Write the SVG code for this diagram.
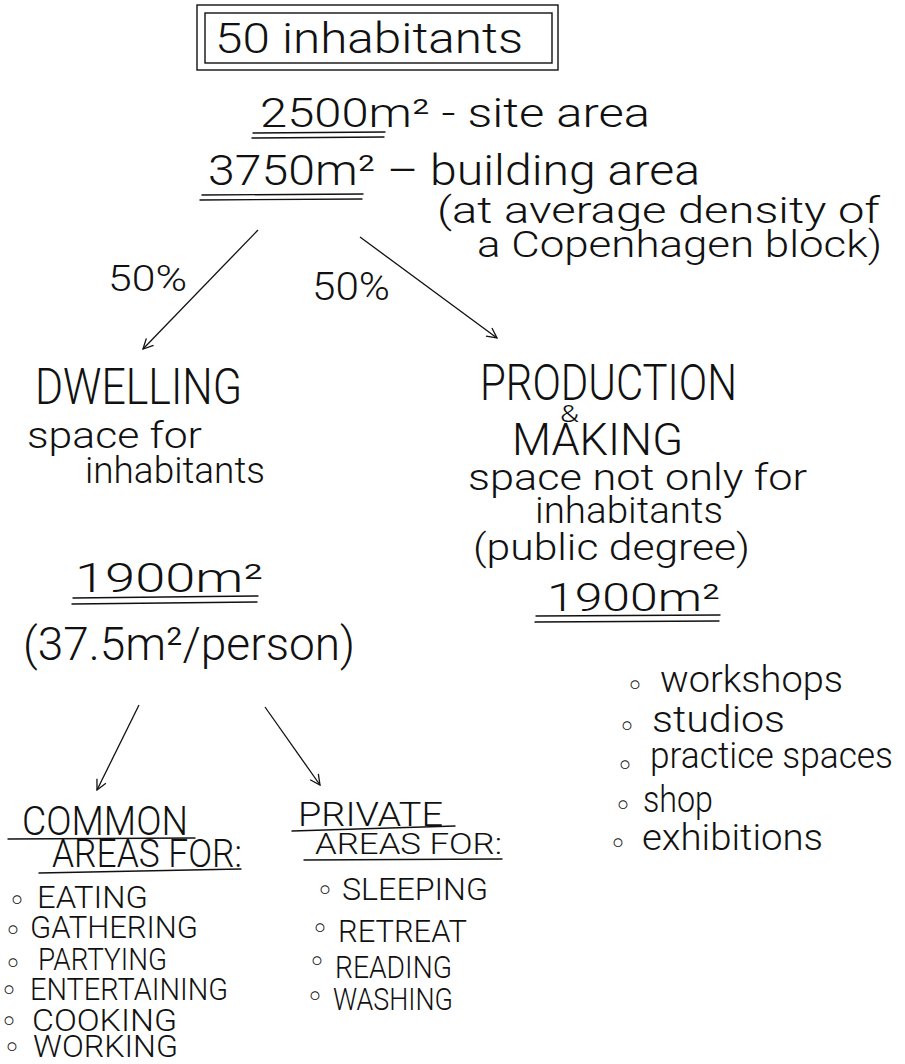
<svg xmlns="http://www.w3.org/2000/svg" width="905" height="1064" viewBox="0 0 905 1064">
<defs>
<style>
text{font-family:Roboto,"Open Sans","DejaVu Sans",sans-serif;font-weight:300;fill:#111;}
.ln{stroke:#111;stroke-width:1.4;fill:none;stroke-linecap:round;}
.con{stroke:#111;stroke-width:1.3;fill:none;marker-end:url(#ah);}
.cap{font-size:31px;}
.hw{font-size:36px;}
.b{font-family:"DejaVu Sans",sans-serif;font-weight:400;font-size:30px;text-anchor:middle;fill:#111;}
</style>
<marker id="ah" viewBox="0 0 12 12" refX="11" refY="6" markerWidth="12" markerHeight="12" markerUnits="userSpaceOnUse" orient="auto">
<path d="M1,1 L11,6 L1,11" stroke="#111" stroke-width="1.3" fill="none"/>
</marker>
</defs>
<rect width="905" height="1064" fill="#fff"/>

<g id="inhabitants">
<rect class="ln" x="197" y="5" width="361" height="65"/>
<rect class="ln" x="205" y="13" width="347" height="50"/>
<text x="215" y="53" font-size="42" textLength="308" lengthAdjust="spacingAndGlyphs">50 inhabitants</text>
</g>

<g id="site-area">
<text x="260" y="127" font-size="40" textLength="390" lengthAdjust="spacingAndGlyphs">2500m² - site area</text>
<path class="ln" d="M253,133 L385,132 M252,138 L384,137"/>
</g>

<g id="building-area">
<text x="208" y="185" font-size="42" textLength="492" lengthAdjust="spacingAndGlyphs">3750m² – building area</text>
<path class="ln" d="M202,195 L363,194 M200,200 L362,199"/>
<text class="hw" x="437" y="223" textLength="443" lengthAdjust="spacingAndGlyphs">(at average density of</text>
<text class="hw" x="477" y="257" textLength="405" lengthAdjust="spacingAndGlyphs">a Copenhagen block)</text>
</g>

<g id="connectors">
<path class="con" d="M258,230 L143,349"/>
<path class="con" d="M360,237 L497,338"/>
<path class="con" d="M139,705 L97,790"/>
<path class="con" d="M265,707 L320,785"/>
</g>

<g id="pct-left">
<text x="108" y="291" font-size="36" textLength="79" lengthAdjust="spacingAndGlyphs">50%</text>
</g>
<g id="pct-right">
<text x="312" y="300" font-size="38" textLength="78" lengthAdjust="spacingAndGlyphs">50%</text>
</g>

<g id="dwelling">
<text x="35" y="404" font-size="50" textLength="207" lengthAdjust="spacingAndGlyphs">DWELLING</text>
<text class="hw" x="27" y="448" textLength="175" lengthAdjust="spacingAndGlyphs">space for</text>
<text class="hw" x="85" y="483" textLength="180" lengthAdjust="spacingAndGlyphs">inhabitants</text>
</g>

<g id="production">
<text x="480" y="400" font-size="50" textLength="257" lengthAdjust="spacingAndGlyphs">PRODUCTION</text>
<text x="560" y="422" font-size="24" textLength="19" lengthAdjust="spacingAndGlyphs">&amp;</text>
<text x="512" y="455" font-size="44" textLength="171" lengthAdjust="spacingAndGlyphs">MAKING</text>
<text class="hw" x="468" y="490" textLength="339" lengthAdjust="spacingAndGlyphs">space not only for</text>
<text class="hw" x="535" y="523" textLength="188" lengthAdjust="spacingAndGlyphs">inhabitants</text>
<text class="hw" x="473" y="560" textLength="277" lengthAdjust="spacingAndGlyphs">(public degree)</text>
<text x="547" y="611" font-size="38" textLength="173" lengthAdjust="spacingAndGlyphs">1900m²</text>
<path class="ln" d="M536,616 L720,615 M535,622 L719,621"/>
</g>

<g id="dwelling-area">
<text x="75" y="592" font-size="40" textLength="188" lengthAdjust="spacingAndGlyphs">1900m²</text>
<path class="ln" d="M73,598 L258,596 M72,604 L257,602"/>
<text x="23" y="660" font-size="46" textLength="332" lengthAdjust="spacingAndGlyphs">(37.5m²/person)</text>
</g>

<g id="production-list">
<text class="b" x="635" y="696">◦</text>
<text class="hw" x="660" y="692" textLength="183" lengthAdjust="spacingAndGlyphs">workshops</text>
<text class="b" x="627" y="737">◦</text>
<text class="hw" x="652" y="732" textLength="133" lengthAdjust="spacingAndGlyphs">studios</text>
<text class="b" x="625" y="776">◦</text>
<text class="hw" x="650" y="768" textLength="243" lengthAdjust="spacingAndGlyphs">practice spaces</text>
<text class="b" x="623" y="816">◦</text>
<text class="hw" x="643" y="812" textLength="70" lengthAdjust="spacingAndGlyphs">shop</text>
<text class="b" x="618" y="854">◦</text>
<text class="hw" x="642" y="850" textLength="181" lengthAdjust="spacingAndGlyphs">exhibitions</text>
</g>

<g id="common">
<text x="22" y="835" font-size="40" textLength="166" lengthAdjust="spacingAndGlyphs">COMMON</text>
<path class="ln" d="M8,839 L195,838"/>
<text x="52" y="867" font-size="38" textLength="190" lengthAdjust="spacingAndGlyphs">AREAS FOR:</text>
<path class="ln" d="M39,873 L241,869"/>
<text class="b" x="17" y="911">◦</text>
<text class="cap" x="37" y="908" textLength="111" lengthAdjust="spacingAndGlyphs">EATING</text>
<text class="b" x="13" y="941">◦</text>
<text class="cap" x="30" y="938" textLength="168" lengthAdjust="spacingAndGlyphs">GATHERING</text>
<text class="b" x="13" y="974">◦</text>
<text class="cap" x="38" y="970" textLength="129" lengthAdjust="spacingAndGlyphs">PARTYING</text>
<text class="b" x="9" y="1001">◦</text>
<text class="cap" x="30" y="1000" textLength="198" lengthAdjust="spacingAndGlyphs">ENTERTAINING</text>
<text class="b" x="9" y="1032">◦</text>
<text class="cap" x="32" y="1031" textLength="145" lengthAdjust="spacingAndGlyphs">COOKING</text>
<text class="b" x="12" y="1058">◦</text>
<text class="cap" x="33" y="1057" textLength="145" lengthAdjust="spacingAndGlyphs">WORKING</text>
</g>

<g id="private">
<text x="298" y="826" font-size="34" textLength="145" lengthAdjust="spacingAndGlyphs">PRIVATE</text>
<path class="ln" d="M292,831 L455,826"/>
<text x="315" y="854" font-size="30" textLength="187" lengthAdjust="spacingAndGlyphs">AREAS FOR:</text>
<path class="ln" d="M304,860 L502,859"/>
<text class="b" x="325" y="901">◦</text>
<text class="cap" x="342" y="900" textLength="146" lengthAdjust="spacingAndGlyphs">SLEEPING</text>
<text class="b" x="320" y="939">◦</text>
<text class="cap" x="338" y="942" textLength="129" lengthAdjust="spacingAndGlyphs">RETREAT</text>
<text class="b" x="317" y="972">◦</text>
<text class="cap" x="335" y="978" textLength="117" lengthAdjust="spacingAndGlyphs">READING</text>
<text class="b" x="315" y="1007">◦</text>
<text class="cap" x="333" y="1010" textLength="120" lengthAdjust="spacingAndGlyphs">WASHING</text>
</g>
</svg>
